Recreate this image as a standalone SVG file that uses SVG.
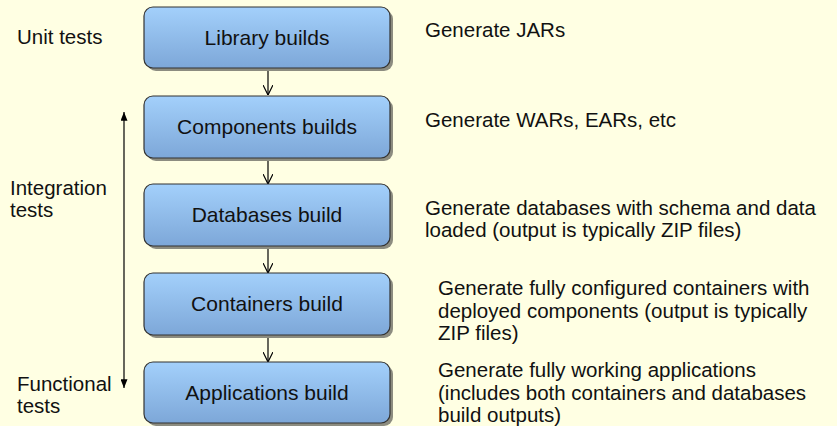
<svg xmlns="http://www.w3.org/2000/svg" width="837" height="426" viewBox="0 0 837 426">
<style>
text { font-family: "Liberation Sans", Arial, sans-serif; font-size: 20.5px; fill: #111; }
.lbl { text-anchor: middle; font-size: 21px; }
.box { fill: url(#boxGrad); stroke: #333; stroke-width: 1.2; }
.shadow { fill: #8c8c80; }
.conn { stroke: #000; stroke-width: 1.2; fill: none; }
</style>
<defs>
<linearGradient id="boxGrad" x1="0" y1="0" x2="0" y2="1">
<stop offset="0" stop-color="#A3D0FB"/>
<stop offset="1" stop-color="#7DA7D8"/>
</linearGradient>
<marker id="open" viewBox="0 0 10 10" refX="10" refY="5" markerWidth="10" markerHeight="10" markerUnits="userSpaceOnUse" orient="auto">
<path d="M0,0 L10,5 L0,10" fill="none" stroke="#000" stroke-width="1.2"/>
</marker>
<marker id="solid" viewBox="0 0 10 8" refX="10" refY="4" markerWidth="9" markerHeight="7" markerUnits="userSpaceOnUse" orient="auto-start-reverse">
<path d="M0,0 L10,4 L0,8 Z" fill="#000"/>
</marker>
</defs>
<rect width="837" height="426" fill="#FFFFE3"/>

<g id="connectors">
<line class="conn" x1="268" y1="68" x2="268" y2="95" marker-end="url(#open)"/>
<line class="conn" x1="268" y1="158" x2="268" y2="184" marker-end="url(#open)"/>
<line class="conn" x1="268" y1="246" x2="268" y2="273" marker-end="url(#open)"/>
<line class="conn" x1="268" y1="335" x2="268" y2="362" marker-end="url(#open)"/>
<line class="conn" x1="124" y1="112" x2="124" y2="388" marker-start="url(#solid)" marker-end="url(#solid)"/>
</g>

<g id="library">
<rect class="shadow" x="147" y="10" width="246" height="61" rx="9"/>
<rect class="box" x="144" y="7" width="246" height="61" rx="9"/>
<text class="lbl" x="267" y="45">Library builds</text>
</g>
<g id="components">
<rect class="shadow" x="147" y="99" width="246" height="62" rx="9"/>
<rect class="box" x="144" y="96" width="246" height="62" rx="9"/>
<text class="lbl" x="267" y="134">Components builds</text>
</g>
<g id="databases">
<rect class="shadow" x="147" y="187" width="246" height="62" rx="9"/>
<rect class="box" x="144" y="184" width="246" height="62" rx="9"/>
<text class="lbl" x="267" y="222">Databases build</text>
</g>
<g id="containers">
<rect class="shadow" x="147" y="276" width="246" height="62" rx="9"/>
<rect class="box" x="144" y="273" width="246" height="62" rx="9"/>
<text class="lbl" x="267" y="311">Containers build</text>
</g>
<g id="applications">
<rect class="shadow" x="147" y="365" width="246" height="61" rx="9"/>
<rect class="box" x="144" y="362" width="246" height="61" rx="9"/>
<text class="lbl" x="267" y="400">Applications build</text>
</g>

<g id="test-labels">
<text x="17" y="44">Unit tests</text>
<text x="10" y="194.5">Integration</text>
<text x="10" y="217">tests</text>
<text x="17" y="390.5">Functional</text>
<text x="17" y="413">tests</text>
</g>

<g id="descriptions">
<text x="425" y="37">Generate JARs</text>
<text x="425" y="127">Generate WARs, EARs, etc</text>
<text x="425" y="214.5">Generate databases with schema and data</text>
<text x="425" y="237">loaded (output is typically ZIP files)</text>
<text x="438" y="295">Generate fully configured containers with</text>
<text x="438" y="317.5">deployed components (output is typically</text>
<text x="438" y="340">ZIP files)</text>
<text x="438" y="377">Generate fully working applications</text>
<text x="438" y="399.5">(includes both containers and databases</text>
<text x="438" y="422">build outputs)</text>
</g>
</svg>
